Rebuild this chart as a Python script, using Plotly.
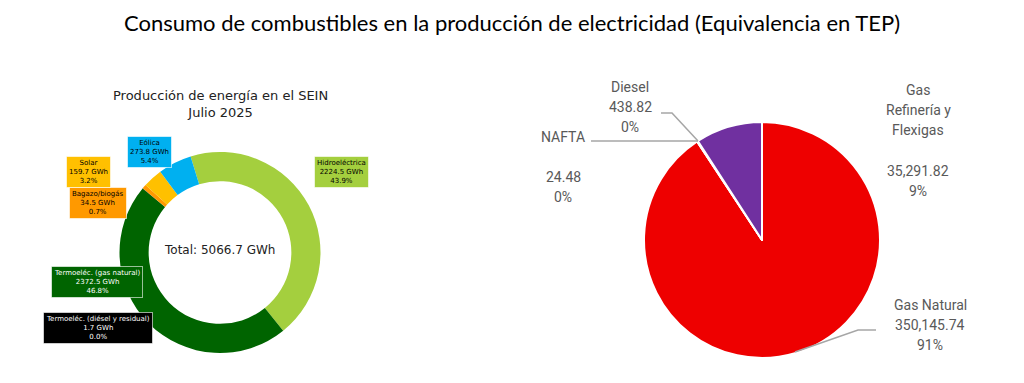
import plotly.graph_objects as go

# Page has an 8px body margin; build the figure to fit inside it.
OFF = 8
W, H = 1024 - 2 * OFF, 383 - 2 * OFF

# Left donut data
sein_labels = ["Hidroeléctrica", "Termoeléc. (gas natural)", "Termoeléc. (diésel y residual)",
               "Bagazo/biogás", "Solar", "Eólica"]
sein_gwh = [2224.5, 2372.5, 1.7, 34.5, 159.7, 273.8]
sein_pct = ["43.9%", "46.8%", "0.0%", "0.7%", "3.2%", "5.4%"]
sein_colors = ["#A4CF3E", "#006400", "#000000", "#FF9900", "#FFC000", "#00B0F0"]
sein_total = 5066.7

# Right pie data
fuel_labels = ["Gas Natural", "NAFTA", "Diesel", "Gas Refinería y Flexigas"]
fuel_tep = [350145.74, 24.48, 438.82, 35291.82]
fuel_pct = ["91%", "0%", "0%", "9%"]
fuel_colors = ["#EE0000", "#F2A000", "#4472C4", "#7030A0"]


def px(x):
    return (x - OFF) / W


def py(y):
    return 1 - (y - OFF) / H


fig = go.Figure()

fig.add_trace(go.Pie(
    labels=sein_labels, values=sein_gwh, hole=0.71, sort=False, direction="clockwise",
    rotation=-17, marker=dict(colors=sein_colors, line=dict(width=0)),
    textinfo="none", showlegend=False,
    domain=dict(x=[px(119), px(321)], y=[py(353), py(152)]),
))

fig.add_trace(go.Pie(
    labels=fuel_labels, values=fuel_tep, sort=False, direction="clockwise",
    rotation=0, marker=dict(colors=fuel_colors, line=dict(color="white", width=2)),
    textinfo="none", showlegend=False,
    domain=dict(x=[px(644), px(880)], y=[py(358), py(122)]),
))

ann = []


def add(x, y, text, font, **kw):
    ann.append(dict(x=px(x), y=py(y), xref="paper", yref="paper", showarrow=False,
                    xanchor="center", yanchor="middle", text=text, font=font, **kw))


# Title
add(512, 22, "Consumo de combustibles en la producción de electricidad (Equivalencia en TEP)",
    dict(family="Lato", size=22, color="black"))

# Left subtitle and center total
add(220, 104, "Producción de energía en el SEIN<br>Julio 2025",
    dict(family="DejaVu Sans", size=13, color="#222222"))
add(219, 250, f"Total: {sein_total} GWh", dict(family="DejaVu Sans", size=12, color="#222222"))

box_pos = {
    "Hidroeléctrica": (341, 172, "black"),
    "Termoeléc. (gas natural)": (97, 282, "white"),
    "Termoeléc. (diésel y residual)": (98, 328, "white"),
    "Bagazo/biogás": (98, 203, "black"),
    "Solar": (88, 172, "black"),
    "Eólica": (149, 152, "black"),
}
for lab, val, pct, col in zip(sein_labels, sein_gwh, sein_pct, sein_colors):
    x, y, tc = box_pos[lab]
    add(x, y, f"{lab}<br>{val} GWh<br>{pct}", dict(family="DejaVu Sans", size=7, color=tc),
        bgcolor=col, bordercolor="rgba(255,255,255,0.6)", borderwidth=1, borderpad=2)

gray = "#595959"
rf = dict(family="Roboto", size=14, color=gray)


def lines(x, y0, texts):
    for i, t in enumerate(texts):
        add(x, y0 + 20 * i, t, rf)


lines(630, 87, ["Diesel", f"{fuel_tep[2]:,.2f}", fuel_pct[2]])
lines(563, 137, ["NAFTA"])
lines(563, 177, [f"{fuel_tep[1]:,.2f}", fuel_pct[1]])
lines(918, 90, ["Gas", "Refinería y", "Flexigas"])
lines(918, 171, [f"{fuel_tep[3]:,.2f}", fuel_pct[3]])
lines(930, 305, [fuel_labels[0], f"{fuel_tep[0]:,.2f}", fuel_pct[0]])

lc = dict(color="#A6A6A6", width=1.5)
shapes = [
    dict(type="path", xref="paper", yref="paper",
         path=f"M {px(661)} {py(113)} L {px(672)} {py(113)} L {px(698)} {py(141)}", line=lc),
    dict(type="line", xref="paper", yref="paper",
         x0=px(591), y0=py(141), x1=px(698), y1=py(141), line=lc),
    dict(type="path", xref="paper", yref="paper",
         path=f"M {px(876)} {py(330)} L {px(858)} {py(330)} L {px(795)} {py(352)}", line=lc),
]

fig.update_layout(width=W, height=H, margin=dict(l=0, r=0, t=0, b=0),
                  paper_bgcolor="white", plot_bgcolor="white",
                  annotations=ann, shapes=shapes)

fig.write_html("out.html")
